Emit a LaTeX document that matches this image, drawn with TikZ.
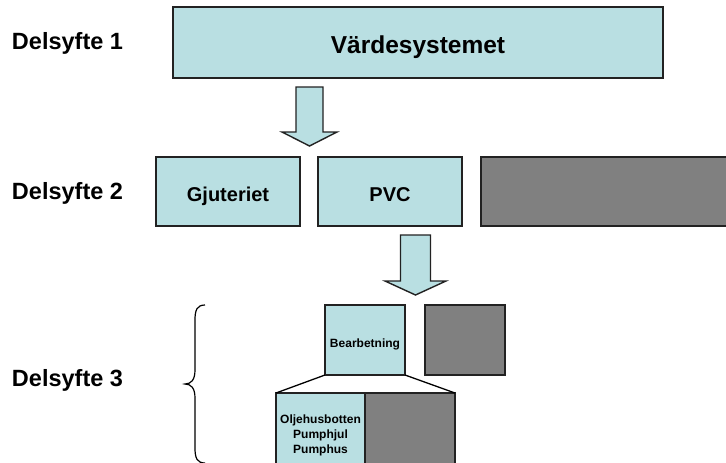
\documentclass[tikz,border=0pt]{standalone}
\usepackage{fontspec}
\setmainfont{Liberation Sans}
\definecolor{boxblue}{HTML}{B9DFE2}
\definecolor{boxgray}{HTML}{808080}
\definecolor{edge}{HTML}{222222}
\begin{document}
\begin{tikzpicture}[x=1pt,y=-1pt,
  every node/.style={inner sep=0pt,outer sep=0pt,font=\bfseries},
  blockbox/.style={draw=edge,line width=1.4pt,fill=boxblue,rectangle},
  emptybox/.style={draw=edge,line width=1.4pt,fill=boxgray,rectangle},
  blockarrow/.style={draw=edge,line width=1.4pt,fill=boxblue,line join=miter},
  levellabel/.style={anchor=base west,font=\bfseries\fontsize{23.5}{28}\selectfont},
  thin/.style={draw=black,line width=1.2pt}
]
\useasboundingbox (0,0) rectangle (726,463);
\clip (0,0) rectangle (726,463);

% level labels
\node[levellabel] (d1) at (12,49) {Delsyfte 1};
\node[levellabel] (d2) at (12,199) {Delsyfte 2};
\node[levellabel] (d3) at (12,386) {Delsyfte 3};

% level 1
\node[blockbox,minimum width=490,minimum height=71,text height=21.6pt,text depth=0pt,
      font=\bfseries\fontsize{24.5}{29}\selectfont] (vs) at (418,42.5) {Värdesystemet};

% arrow from level 1 to level 2
\coordinate (a1) at (309.5,87);
\draw[blockarrow] (a1) ++(-13.5,0) -- ++(0,45) -- ++(-14,0) -- ++(27.5,14)
  -- ++(27.5,-14) -- ++(-14,0) -- ++(0,-45) -- cycle;

% level 2
\node[blockbox,minimum width=144,minimum height=69,text height=20pt,text depth=0pt,
      font=\bfseries\fontsize{20}{24}\selectfont] (gj) at (228,191.5) {Gjuteriet};
\node[blockbox,minimum width=144,minimum height=69,text height=20pt,text depth=0pt,
      font=\bfseries\fontsize{20}{24}\selectfont] (pvc) at (390,191.5) {PVC};
\node[emptybox,minimum width=259,minimum height=69] (g2) at (610.5,191.5) {};

% arrow from level 2 to level 3
\coordinate (a2) at (415.5,235);
\draw[blockarrow] (a2) ++(-15,0) -- ++(0,46) -- ++(-15.5,0) -- ++(30.5,14)
  -- ++(30.5,-14) -- ++(-15.5,0) -- ++(0,-46) -- cycle;

% level 3
\node[blockbox,minimum width=80,minimum height=70,text height=14.6pt,text depth=0pt,
      font=\bfseries\fontsize{12}{14.5}\selectfont] (bea) at (365,340) {Bearbetning};
\node[emptybox,minimum width=80,minimum height=70] (g3) at (465,340) {};

\node[blockbox,minimum width=89,minimum height=84,align=center,
      font=\bfseries\fontsize{12}{15}\selectfont] (parts) at (320.5,435)
      {Oljehusbotten\\Pumphjul\\Pumphus};
\node[emptybox,minimum width=90,minimum height=84] (g4) at (410,435) {};

% widening lines from Bearbetning to its parts
\draw[draw=black,line width=1.3pt] (bea.south west) -- (parts.north west);
\draw[draw=black,line width=1.3pt] (bea.south east) -- (g4.north east);

% brace grouping level 3
\coordinate (bt) at (205,305);
\coordinate (bm) at (185,384);
\coordinate (bb) at (205,463);
\draw[thin] (bt) .. controls (197,305) and (195,310) .. (195,320)
  -- (195,370) .. controls (195,380) and (191,384) .. (bm)
  .. controls (191,384) and (195,388) .. (195,398)
  -- (195,448) .. controls (195,458) and (197,463) .. (bb);
\end{tikzpicture}
\end{document}
